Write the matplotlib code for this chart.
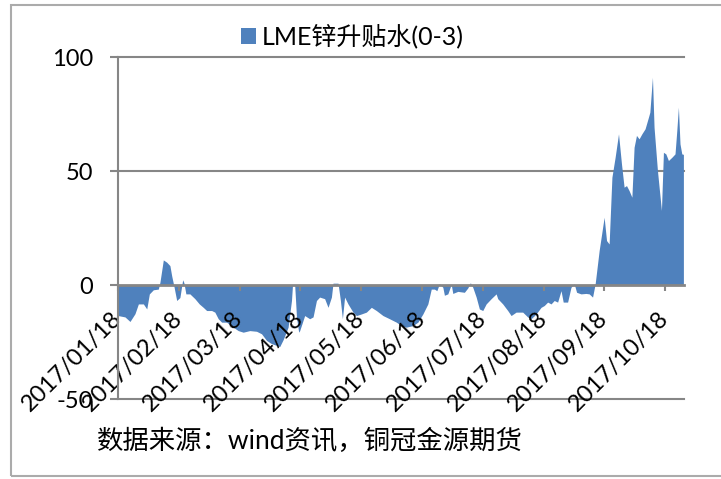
import numpy as np
import matplotlib
matplotlib.use("Agg")
import matplotlib.pyplot as plt
from matplotlib.patches import Rectangle

plt.rcParams['font.family'] = ['Lato', 'Noto Sans CJK SC', 'DejaVu Sans']

# 数据：距 2017/01/18 的天数, LME 锌升贴水 (0-3)
day_offset = [
    0, 3.5, 6, 8.5, 10.2, 12.7, 14.4, 15.7, 17.7, 20.2,
    21, 22.7, 24.4, 26, 26.9, 28, 29.4, 31, 32.4, 33,
    34, 36, 38.5, 40.7, 42.7, 44.4, 46.9, 48.5, 50.2, 51.9,
    54.4, 57.7, 60.2, 62.7, 66, 69.4, 71.9, 74.4, 76.9, 81,
    82.7, 85.2, 86.9, 87.4, 88.5, 89.4, 90.5, 91, 93.5, 96,
    97.7, 99.4, 101, 103.5, 105.2, 106.9, 107.7, 110.2, 111.4, 112.4,
    113.5, 115.2, 117.7, 119.4, 121.9, 124.4, 126.9, 129.4, 132.7, 136,
    139.4, 141.9, 144.4, 147.7, 150.2, 152.7, 155.2, 156.9, 158.5, 159.7,
    161, 162.7, 163.5, 165.2, 166.9, 167.7, 170.2, 173.5, 175.2, 176.5,
    177.7, 179.4, 181, 182.7, 184.4, 186.9, 189.4, 190.2, 192.7, 195.2,
    196.9, 199.4, 202.7, 205.2, 206.9, 209.4, 211.9, 213.5, 215.2, 216.9,
    218.5, 220.2, 221.9, 223, 225.2, 226.9, 228.5, 229.7, 231.9, 234.4,
    236, 237.7, 239, 241, 243.5, 244.7, 246, 247.4, 249, 250.7,
    252.2, 253.5, 254.7, 256, 257.4, 258.5, 259.7, 261, 262.4, 264,
    265.7, 266.4, 267.7, 268.5, 270.2, 272.2, 273.2, 274.4, 275.7, 277.4,
    279, 279.9, 280.7, 281.5, 282.4, 283.2,
]
basis = [
    -13.4, -14, -16, -12.6, -8.3, -8.3, -10.5, -3.9, -2.1, -1.8,
    1.2, 11, 10, 8.5, 4, -0.5, -6.8, -5.5, 2.3, 1,
    -3.9, -3.9, -6, -8.3, -9.8, -11.2, -11.2, -11.9, -14.8, -16.3,
    -16.3, -18.5, -20, -20.7, -20, -20.3, -21.4, -24.3, -25.7, -27,
    -24, -18.5, -6.8, 0, 0, -14, -20.7, -20, -13.4, -14.8,
    -14, -6.8, -5.3, -6, -9.8, -5.3, 0.8, 0.8, -6.8, -14.8,
    -5.3, -8.3, -11.9, -13.4, -12.7, -11.9, -9.8, -11.2, -13.4, -14.8,
    -16.3, -17.8, -18.5, -17.8, -16.3, -12.7, -8.3, -1.8, -1.8, -2.5,
    0.6, -1, -4.5, -3.9, 0.3, -3.7, -2.8, -3.2, -1.3, 1,
    -1, -5.3, -10.5, -11.2, -8.3, -6, -3.9, -6, -8.3, -11.2,
    -13.4, -11.9, -11.9, -14, -14.8, -12.7, -9.8, -9, -7.5, -8.3,
    -6.8, -7.5, -2.5, -7.5, -7.5, -1, 0.5, -3.2, -3.9, -3.7,
    -3.9, -5.3, 0.5, 15.1, 29.7, 19.5, 18, 47.3, 56, 66.3,
    53, 42.9, 43.6, 41.4, 38.5, 60.4, 65.6, 64.1, 66.3, 68.5,
    73.6, 75.8, 91.1, 69.2, 50.2, 32.7, 58.2, 57.5, 54.6, 56,
    57.5, 67.8, 78, 61.9, 57.5, 57.3,
]
month_labels = ['2017/01/18', '2017/02/18', '2017/03/18', '2017/04/18', '2017/05/18',
                '2017/06/18', '2017/07/18', '2017/08/18', '2017/09/18', '2017/10/18']
y_ticks = [-50, 0, 50, 100]
series_name = 'LME锌升贴水(0-3)'
source_note = '数据来源：wind资讯，铜冠金源期货'

blue = '#4F81BD'
gray = '#868686'

fig = plt.figure(figsize=(7.21, 4.79), dpi=100)
ax = fig.add_axes([118 / 721, 1 - 399 / 479, 566 / 721, 342 / 479])

area = ax.fill_between(day_offset, basis, 0, color=blue, linewidth=0, label=series_name, zorder=1)

for v in y_ticks:
    if v != 0:
        ax.axhline(v, color=gray, lw=1.5, zorder=0.5, clip_on=False)

ax.set_xlim(0, 283.5)
ax.set_ylim(-50, 100)

for side in ['top', 'right']:
    ax.spines[side].set_visible(False)
ax.spines['left'].set_color(gray)
ax.spines['left'].set_linewidth(1.5)
ax.spines['bottom'].set_position(('data', 0))
ax.spines['bottom'].set_color(gray)
ax.spines['bottom'].set_linewidth(2)
ax.spines['bottom'].set_zorder(3)

ax.tick_params(axis='y', length=6, width=1.5, color=gray, pad=12, labelsize=17)
ax.tick_params(axis='x', length=4, width=1.5, color=gray, pad=18, labelsize=17)

ax.set_yticks(y_ticks)
ax.set_yticklabels([str(v) for v in y_ticks])

days_per_month = 30.45
ax.set_xticks(np.arange(len(month_labels)) * days_per_month)
ax.set_xticklabels(month_labels)
for lab in ax.get_xticklabels():
    lab.set_rotation(45)
    lab.set_rotation_mode('anchor')
    lab.set_ha('right')
    lab.set_va('center')

fig.legend(handles=[area], loc='center left', bbox_to_anchor=(241 / 721, 1 - 36 / 479),
           frameon=False, fontsize=18, handlelength=0.6, handleheight=0.6,
           handletextpad=0.25, borderpad=0, borderaxespad=0)

fig.text(97 / 721, 1 - 441 / 479, source_note, fontsize=19, va='center', ha='left')

fig.patches.append(Rectangle((11 / 721, 1 - 476 / 479), 1.2, 471 / 479, transform=fig.transFigure,
                             fill=False, edgecolor='#ABABAB', lw=1.5))

fig.savefig('out.png', dpi=100)
